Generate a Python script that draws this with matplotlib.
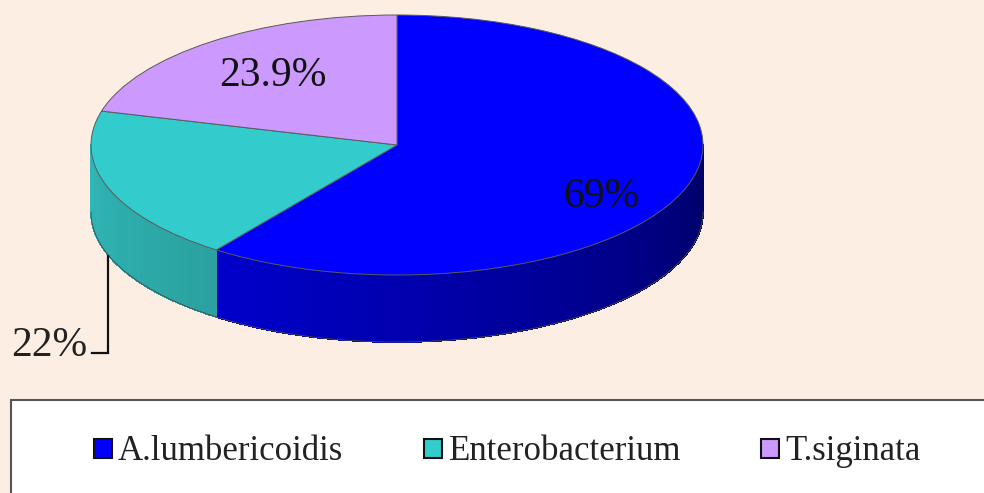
import numpy as np
import matplotlib
matplotlib.use("Agg")
import matplotlib.pyplot as plt
from matplotlib.patches import Rectangle

categories = ["A.lumbericoidis", "Enterobacterium", "T.siginata"]
values = [69, 22, 23.9]
value_labels = ["69%", "22%", "23.9%"]
colors = ["#0000ff", "#33cccc", "#cc99ff"]
side_left = [(0.0, 0.0, 0.80), (0.19, 0.72, 0.72), (0.8, 0.6, 1.0)]
side_right = [(0.0, 0.0, 0.40), (0.17, 0.63, 0.63), (0.8, 0.6, 1.0)]

bg = "#fceee3"
cx, cy, rx, ry, depth = 397, 145, 306, 130, 67
W, H = 984, 493

plt.rcParams["font.family"] = ["Liberation Serif", "DejaVu Serif"]

fig = plt.figure(figsize=(W / 100, H / 100), dpi=100, facecolor=bg)

# pie axes: unit circle is stretched to the ellipse of the reference
ax = fig.add_axes([0, 0, 1, 1])
ax.pie(
    values,
    colors=colors,
    startangle=90,
    counterclock=False,
    radius=1,
    wedgeprops={"edgecolor": "#5a5a5a", "linewidth": 0.7, "zorder": 3},
)
ax.set_aspect("auto")
ax.set_xlim(-cx / rx, (W - cx) / rx)
ax.set_ylim((cy - H) / ry, cy / ry)
ax.axis("off")

# side wall, built from the same shares as the pie
d = depth / ry
fracs = np.cumsum([0] + values) / sum(values)
angles = 90 - fracs * 360
for i in range(len(values)):
    a0 = angles[i + 1]
    a1 = angles[i]
    # only the front half of the rim is visible
    lo = max(a0, -180)
    hi = min(a1, 0)
    if lo >= hi:
        continue
    edges = np.radians(np.linspace(lo, hi, 90))
    mix = np.linspace(0, 1, len(edges) - 1)
    for k in range(len(edges) - 1):
        xs = np.cos([edges[k], edges[k + 1], edges[k + 1], edges[k]])
        ys = np.sin([edges[k], edges[k + 1], edges[k + 1], edges[k]])
        ys[2:] -= d
        c = np.array(side_left[i]) * (1 - mix[k]) + np.array(side_right[i]) * mix[k]
        ax.fill(xs, ys, color=tuple(c), linewidth=0.6, antialiased=False, zorder=1)
    rim = np.radians(np.linspace(lo, hi, 200))
    ax.plot(np.cos(rim), np.sin(rim) - d, color="#4a4a4a", lw=0.6, zorder=2)

# overlay in pixel coordinates for labels, leader and legend
ov = fig.add_axes([0, 0, 1, 1], facecolor="none")
ov.set_xlim(0, W)
ov.set_ylim(H, 0)
ov.axis("off")

ov.text(601, 197, value_labels[0], fontsize=30, ha="center", va="center", color="#111111")
ov.text(273, 76, value_labels[2], fontsize=30, ha="center", va="center", color="#111111")
ov.text(49, 346, value_labels[1], fontsize=30, ha="center", va="center", color="#222222")
ov.plot([108, 108, 92], [256, 353, 353], color="#111111", lw=1.6, solid_joinstyle="miter")

ov.add_patch(Rectangle((10.5, 400), W, 120, facecolor="white", edgecolor="#555555", lw=1.5))
marker_x = [94, 424, 761]
text_x = [118, 449, 785]
for name, col, mx, tx in zip(categories, colors, marker_x, text_x):
    ov.add_patch(Rectangle((mx, 439), 18, 19, facecolor=col, edgecolor="#111111", lw=1.5))
    ov.text(tx, 452, name, fontsize=25, ha="left", va="center", color="#222222")

fig.savefig("out.png", dpi=100, facecolor=bg)
